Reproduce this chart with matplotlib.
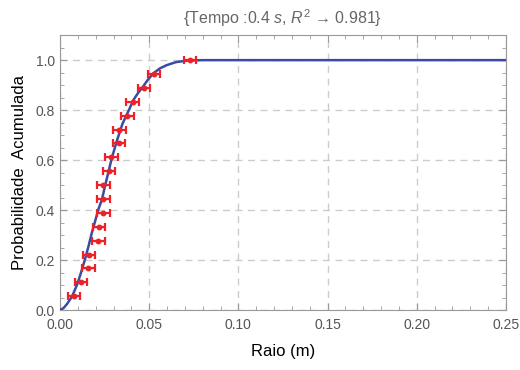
import numpy as np
import matplotlib.pyplot as plt
from matplotlib.ticker import MultipleLocator

plt.rcParams['font.family'] = ['Liberation Sans', 'DejaVu Sans']
plt.rcParams['mathtext.fontset'] = 'custom'
plt.rcParams['mathtext.it'] = 'Liberation Sans:italic'
plt.rcParams['mathtext.rm'] = 'Liberation Sans'

# measured radii (m) and cumulative probability
raio = [0.0078, 0.0118, 0.0159, 0.0163, 0.0215, 0.0220, 0.0243, 0.0243, 0.0243,
        0.0276, 0.0288, 0.0331, 0.0333, 0.0377, 0.0407, 0.0471, 0.0527, 0.0730]
prob = [0.056, 0.111, 0.167, 0.222, 0.278, 0.333, 0.389, 0.444, 0.500,
        0.556, 0.611, 0.667, 0.722, 0.778, 0.833, 0.889, 0.944, 1.000]
erro = 0.0035

# fitted curve
curva_x = [0.0, 0.002, 0.004, 0.0066, 0.0083, 0.0099, 0.0120, 0.0140, 0.0160, 0.0178,
           0.0197, 0.0215, 0.0234, 0.0262, 0.0290, 0.0320, 0.0350, 0.0388, 0.0411,
           0.0437, 0.0464, 0.0493, 0.0523, 0.0560, 0.0598, 0.0650, 0.0710, 0.0800,
           0.1000, 0.2500]
curva_y = [0.0, 0.008, 0.025, 0.053, 0.080, 0.108, 0.155, 0.203, 0.256, 0.308,
           0.356, 0.403, 0.440, 0.525, 0.607, 0.680, 0.745, 0.803, 0.840,
           0.868, 0.893, 0.922, 0.947, 0.967, 0.980, 0.992, 0.998, 1.0,
           1.0, 1.0]

fig = plt.figure(figsize=(5.2, 3.7), dpi=100)
ax = fig.add_axes([0.1154, 0.162, 0.8576, 0.743])

ax.plot(curva_x, curva_y, color='#3b4ba3', lw=1.8, zorder=3)
ax.errorbar(raio, prob, xerr=erro, fmt='o', color='#ec2228', ms=3.2,
            capsize=3, capthick=1.6, elinewidth=1.6, zorder=4, clip_on=False)

ax.set_xlim(0, 0.25)
ax.set_ylim(0, 1.1)
ax.xaxis.set_major_locator(MultipleLocator(0.05))
ax.xaxis.set_minor_locator(MultipleLocator(0.01))
ax.yaxis.set_major_locator(MultipleLocator(0.2))
ax.yaxis.set_minor_locator(MultipleLocator(0.05))
ax.set_xticklabels([f'{v:.2f}' for v in ax.get_xticks()])
ax.set_yticklabels([f'{v:.1f}' for v in ax.get_yticks()])
ax.tick_params(which='both', direction='in', top=True, right=True,
               colors='#999999', labelcolor='#555555', labelsize=10)
ax.tick_params(which='major', length=5)
ax.tick_params(which='minor', length=3)
ax.tick_params(axis='x', pad=6)
for s in ax.spines.values():
    s.set_color('#999999')
ax.grid(True, which='major', ls=(0, (5, 4)), color='#cccccc', lw=1)

ax.set_xlabel('Raio (m)', fontsize=12, labelpad=8)
ax.set_ylabel('Probabilidade  Acumulada', fontsize=12, labelpad=6)
ax.set_title('{Tempo :0.4 $s$, $R^2$ \u2192 0.981}', fontsize=11.5,
             color='#666666', pad=8)

fig.savefig('out.png', dpi=100)
